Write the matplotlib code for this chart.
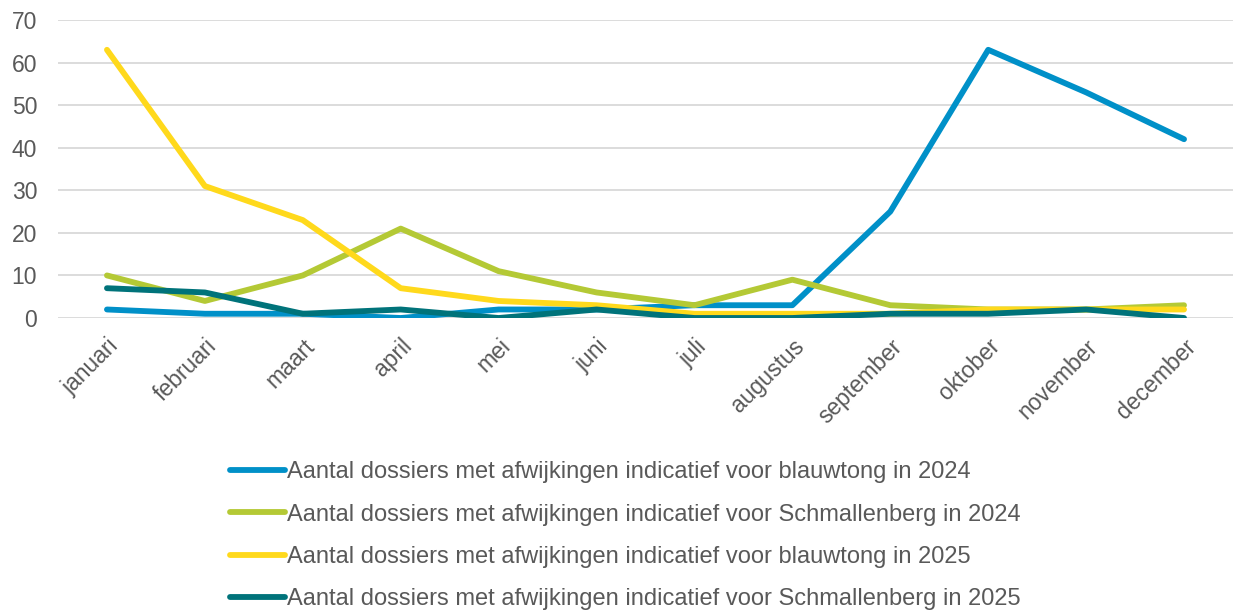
import matplotlib
matplotlib.use("Agg")
import matplotlib.pyplot as plt
from matplotlib.lines import Line2D

months = ["januari", "februari", "maart", "april", "mei", "juni", "juli",
          "augustus", "september", "oktober", "november", "december"]
blauwtong_2024 = [2, 1, 1, 0, 2, 2, 3, 3, 25, 63, 53, 42]
schmallenberg_2024 = [10, 4, 10, 21, 11, 6, 3, 9, 3, 2, 2, 3]
blauwtong_2025 = [63, 31, 23, 7, 4, 3, 1, 1, 1, 2, 2, 2]
schmallenberg_2025 = [7, 6, 1, 2, 0, 2, 0, 0, 1, 1, 2, 0]
labels = [
    "Aantal dossiers met afwijkingen indicatief voor blauwtong in 2024",
    "Aantal dossiers met afwijkingen indicatief voor Schmallenberg in 2024",
    "Aantal dossiers met afwijkingen indicatief voor blauwtong in 2025",
    "Aantal dossiers met afwijkingen indicatief voor Schmallenberg in 2025",
]
colors = ["#0090C8", "#B4C935", "#FFD91C", "#00737A"]
yticks = [0, 10, 20, 30, 40, 50, 60, 70]

plt.rcParams['font.family'] = ['Liberation Sans', 'DejaVu Sans']
fig = plt.figure(figsize=(12.33, 6.12), dpi=100)
W, H = 1233, 612
ax = fig.add_axes([58 / W, 1 - 318 / H, (1233 - 58) / W, (318 - 20) / H])

x = list(range(len(months)))
series = [blauwtong_2024, schmallenberg_2024, blauwtong_2025, schmallenberg_2025]
for s, c in zip(series, colors):
    ax.plot(x, s, color=c, lw=4.2, solid_capstyle='round', solid_joinstyle='round', zorder=3)

ax.set_ylim(0, 70)
ax.set_yticks(yticks)
ax.set_xlim(-0.5, 11.5)
ax.set_xticks(x)
ax.set_xticklabels(months, rotation=45, ha='right', rotation_mode='anchor')
ax.grid(axis='y', color='#D9D9D9', lw=1.3, zorder=0)
for sp in ax.spines.values():
    sp.set_visible(False)
ax.tick_params(axis='both', length=0, colors='#595959', labelsize=16.5)
ax.tick_params(axis='y', pad=15)
ax.tick_params(axis='x', pad=12)

handles = [Line2D([0], [0], color=c, lw=4.2, solid_capstyle='round') for c in colors]
fig.legend(handles, labels, loc='upper left', bbox_to_anchor=(221 / W, 1 - 452 / H),
           frameon=False, fontsize=17, labelcolor='#595959', handlelength=2.3,
           handletextpad=0.1, labelspacing=0.86, borderaxespad=0)

fig.savefig("out.png", dpi=100)
